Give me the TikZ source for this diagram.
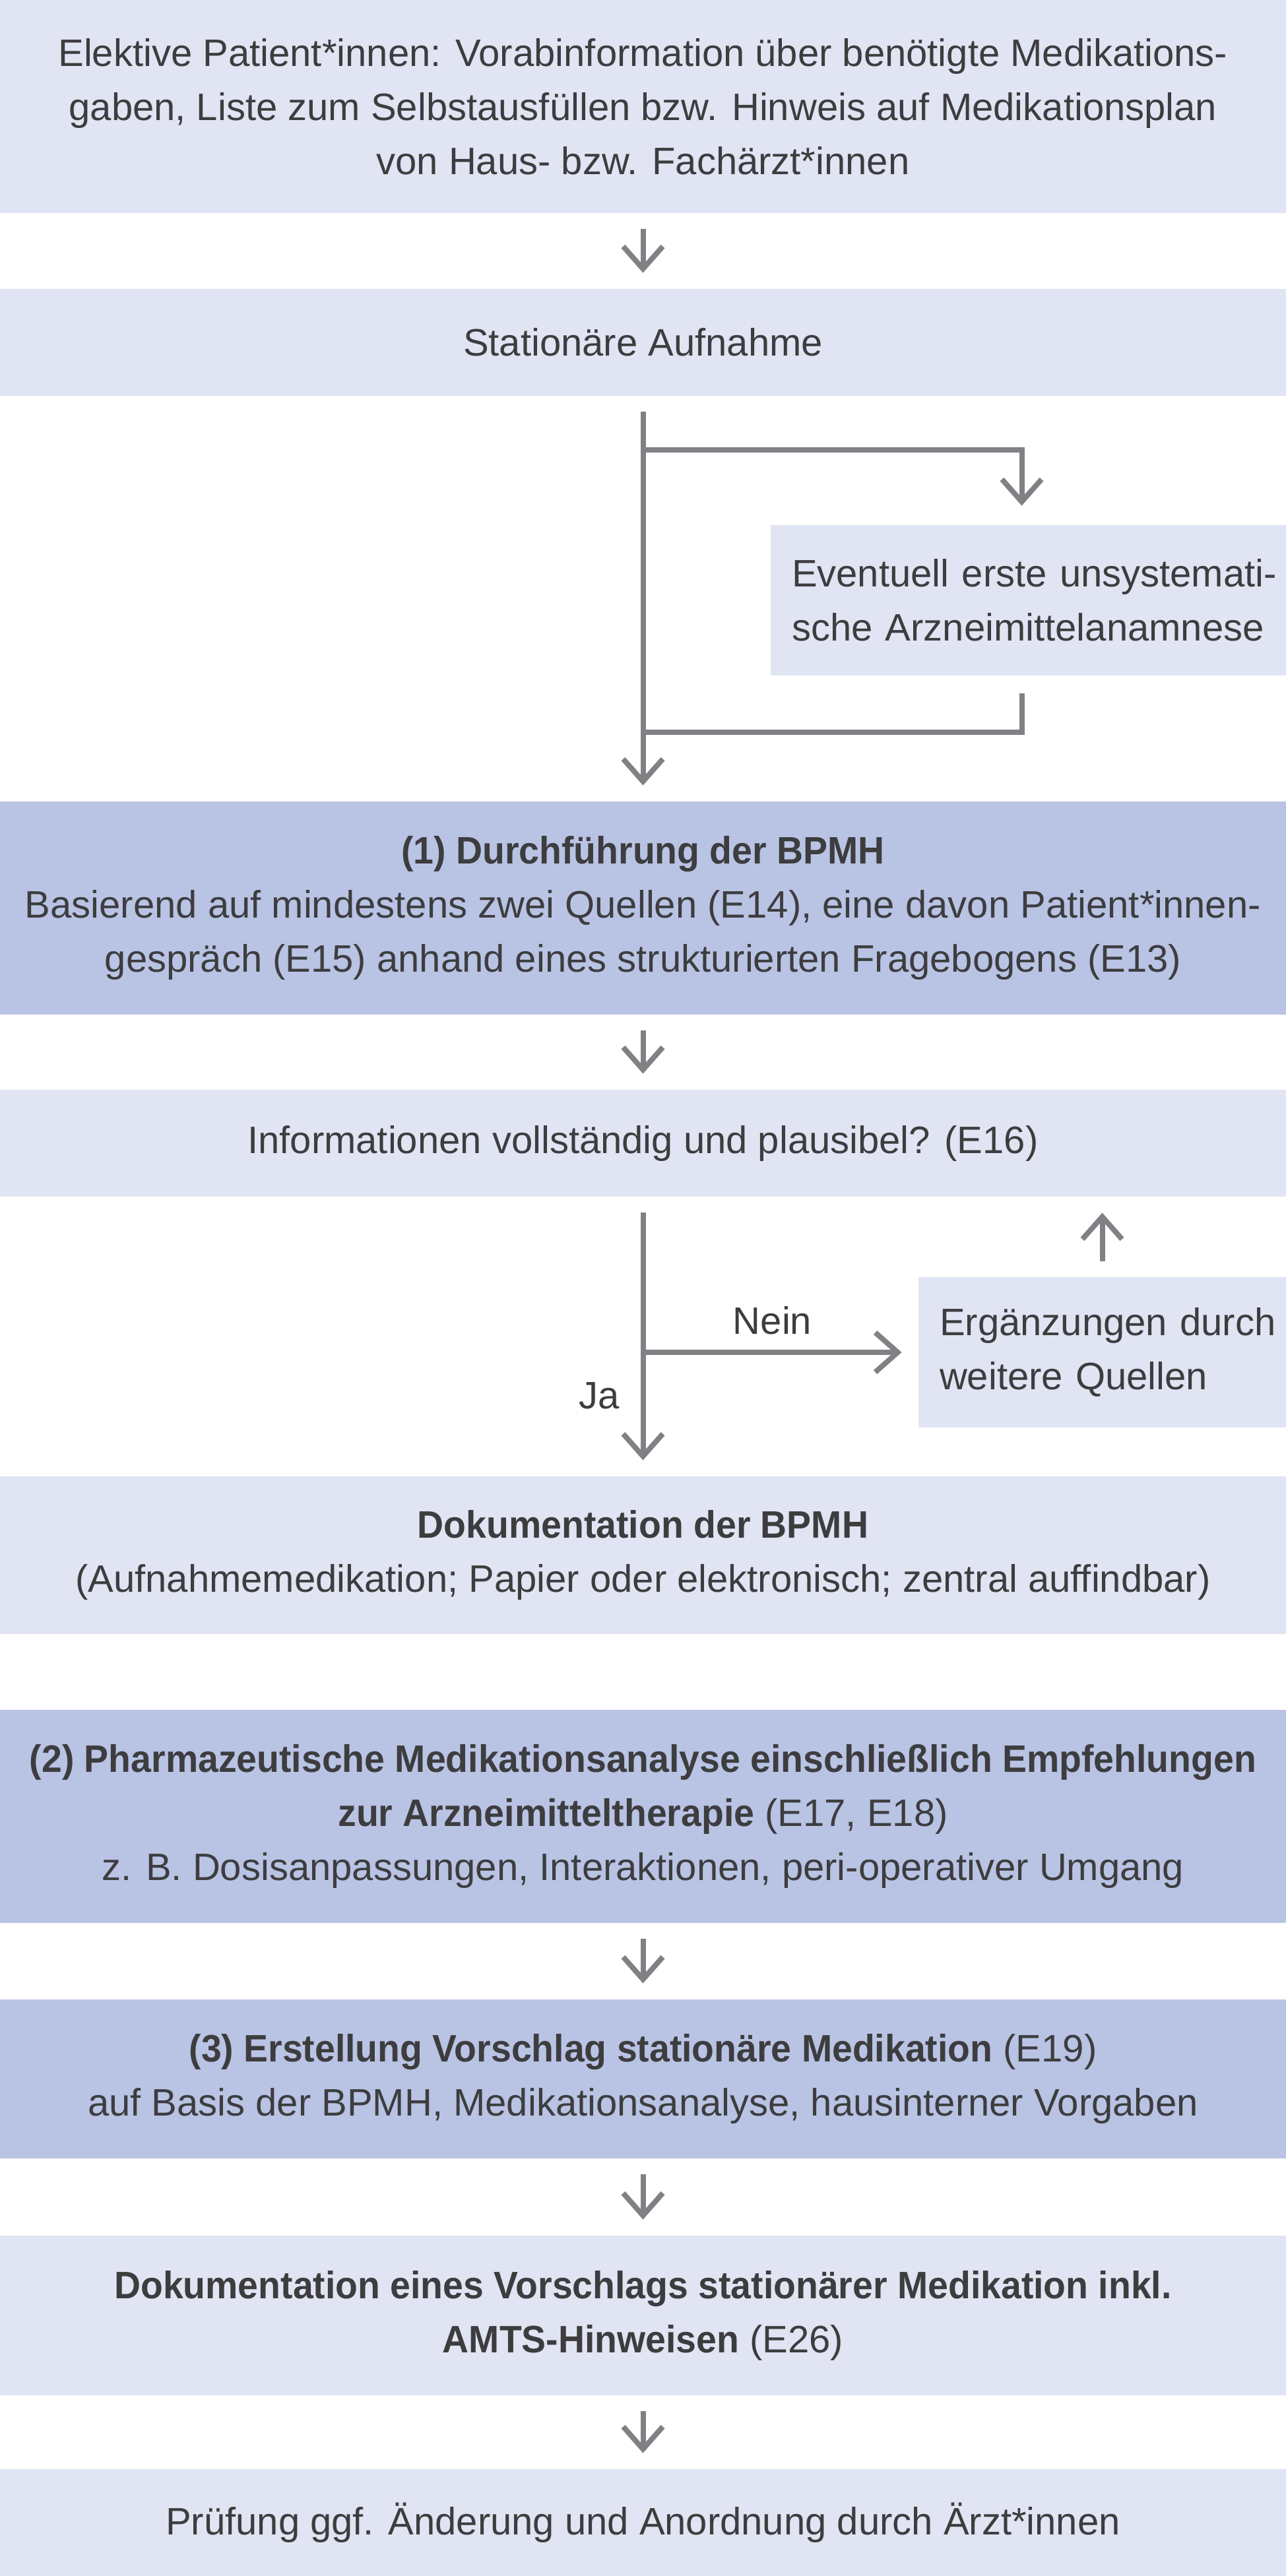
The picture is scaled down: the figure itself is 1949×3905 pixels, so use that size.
\documentclass[tikz,border=0pt]{standalone}
\usepackage{fontspec}
\setmainfont{Liberation Sans}[BoldFeatures={FakeStretch=0.955}]
\usepackage{tikz}
\usetikzlibrary{arrows.meta}
\definecolor{boxlight}{HTML}{E1E4F2}
\definecolor{boxdark}{HTML}{B9C3E4}
\definecolor{txtgray}{HTML}{3D3D3F}
\definecolor{linegray}{HTML}{808185}

\begin{document}
\begin{tikzpicture}[x=0.5pt, y=-0.5pt,
    font=\fontsize{29}{41}\selectfont,
    every node/.style={text=txtgray, inner sep=0pt},
    lightbox/.style={fill=boxlight, minimum width=974.5pt, minimum height=#1, align=center},
    darkbox/.style={lightbox=#1, fill=boxdark},
    sidebox/.style={fill=boxlight, minimum height=114pt, align=left, inner xsep=16pt},
    flow/.style={draw=linegray, line width=4pt, -{Straight Barb[length=17pt,width=30pt]},
        shorten <=12pt, shorten >=12pt},
    plainline/.style={draw=linegray, line width=4pt}]
    \useasboundingbox (0,0) rectangle (1949,3905);
    % boxes, top to bottom
    \node[lightbox=161.5pt] (info) at (974.5,161.5) {Elektive Patient*innen: Vorabinformation über benötigte Medikations-\\gaben, Liste zum Selbstausfüllen bzw. Hinweis auf Medikationsplan\\von Haus- bzw. Fachärzt*innen};
    \node[lightbox=81pt] (aufnahme) at (974.5,519) {Stationäre Aufnahme};
    \node[sidebox, text width=358.5pt] (eventuell) at (1558.5,910) {\mbox{Eventuell erste unsystemati-}\\\mbox{sche Arzneimittelanamnese}};
    \node[darkbox=161.5pt] (bpmh) at (974.5,1376.5) {\textbf{(1) Durchführung der BPMH}\\Basierend auf mindestens zwei Quellen (E14), eine davon Patient*innen-\\gespräch (E15) anhand eines strukturierten Fragebogens (E13)};
    \node[lightbox=81pt] (pruef) at (974.5,1733) {Informationen vollständig und plausibel? (E16)};
    \node[sidebox, text width=246.5pt] (quellen) at (1670.5,2050) {\mbox{Ergänzungen durch}\\\mbox{weitere Quellen}};
    \node[lightbox=119.5pt] (doku) at (974.5,2357.5) {\textbf{Dokumentation der BPMH}\\(Aufnahmemedikation; Papier oder elektronisch; zentral auffindbar)};
    \node[darkbox=161.5pt] (analyse) at (974.5,2753.5) {\textbf{(2) Pharmazeutische Medikationsanalyse einschließlich Empfehlungen}\\\textbf{zur Arzneimitteltherapie} (E17, E18)\\z. B. Dosisanpassungen, Interaktionen, peri-operativer Umgang};
    \node[darkbox=120.5pt] (vorschlag) at (974.5,3151.5) {\textbf{(3) Erstellung Vorschlag stationäre Medikation} (E19)\\auf Basis der BPMH, Medikationsanalyse, hausinterner Vorgaben};
    \node[lightbox=121pt] (dokuvor) at (974.5,3510) {\textbf{Dokumentation eines Vorschlags stationärer Medikation inkl.}\\\textbf{AMTS-Hinweisen} (E26)};
    \node[lightbox=81pt] (arzt) at (974.5,3824) {Prüfung ggf. Änderung und Anordnung durch Ärzt*innen};
    % branch points on the main line
    \coordinate (split1) at (974.5,682);
    \coordinate (merge1) at (974.5,1110);
    \coordinate (split2) at (974.5,2050);
    % connectors
    \draw[flow] (info) -- (aufnahme);
    \draw[flow] (aufnahme) -- (bpmh);
    \draw[flow, shorten <=0pt, shorten >=14.5pt] (split1) -| ([xshift=-5pt]eventuell.north);
    \draw[plainline] ([xshift=-5pt,yshift=-13.5pt]eventuell.south) |- (merge1);
    \draw[flow] (bpmh) -- (pruef);
    \draw[flow] (pruef) -- node[pos=0.712, left=16pt] (ja) {Ja} (doku);
    \draw[flow, shorten <=0pt, shorten >=12.5pt] (split2) -- node[pos=0.47, above=11.5pt] (nein) {Nein} (quellen);
    \draw[flow] (quellen.north) -- (quellen.north |- pruef.south);
    \draw[flow] (analyse) -- (vorschlag);
    \draw[flow] (vorschlag) -- (dokuvor);
    \draw[flow] (dokuvor) -- (arzt);
\end{tikzpicture}
\end{document}
